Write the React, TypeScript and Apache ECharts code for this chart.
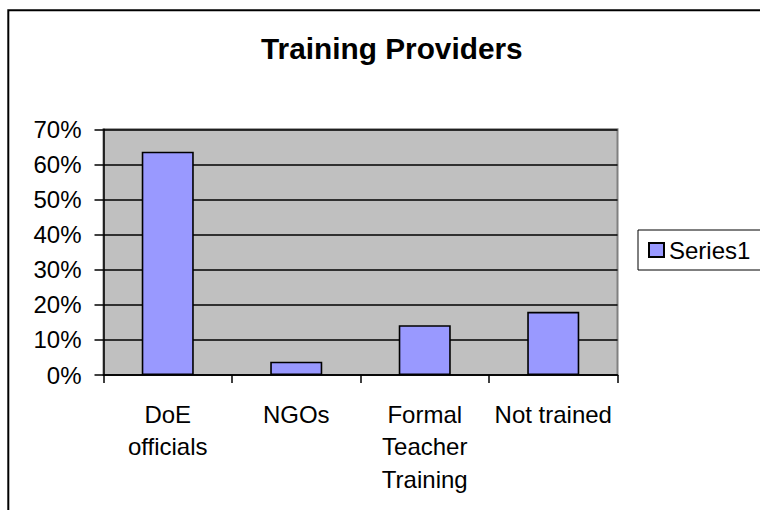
import React, { useEffect, useRef } from "react";
import * as echarts from "echarts";

const categories = ["DoE\nofficials", "NGOs", "Formal\nTeacher\nTraining", "Not trained"];
const seriesName = "Series1";
const values = [0.636, 0.038, 0.142, 0.18];
const titleText = "Training Providers";
const yMin = 0;
const yMax = 0.7;
const yInterval = 0.1;

const FONT = "'Liberation Sans', Arial, sans-serif";

export default function App() {
  const ref = useRef<HTMLDivElement>(null);
  useEffect(() => {
    const chart = echarts.init(ref.current!, null, { renderer: "svg" });
    chart.setOption({
      animation: false,
      backgroundColor: "#ffffff",
      title: {
        text: titleText,
        left: 261,
        top: 33,
        padding: 0,
        textStyle: { fontFamily: FONT, fontWeight: "bold", fontSize: 29.8, color: "#000" },
      },
      legend: {
        data: [seriesName],
        left: 638,
        top: 230,
        orient: "vertical",
        padding: [8, 14, 8, 10],
        itemWidth: 15,
        itemHeight: 14,
        backgroundColor: "#fff",
        borderColor: "#000",
        borderWidth: 1,
        borderRadius: 0,
        icon: "rect",
        textStyle: { fontFamily: FONT, fontSize: 24, color: "#000" },
      },
      graphic: [
        {
          type: "rect",
          shape: { x: 8.3, y: 10.3, width: 1000, height: 1000 },
          style: { fill: "none", stroke: "#000", lineWidth: 2 },
          silent: true,
          z: -1,
        },
      ],
      grid: {
        left: 103.5,
        right: 142.5,
        top: 129.3,
        bottom: 135,
        show: true,
        backgroundColor: "#C0C0C0",
        borderColor: "#808080",
        borderWidth: 2,
      },
      xAxis: {
        type: "category",
        data: categories,
        axisLine: { show: true, lineStyle: { color: "#000", width: 1.5 } },
        axisTick: { show: true, length: 8, lineStyle: { color: "#000", width: 1.5 } },
        axisLabel: {
          margin: 23,
          fontFamily: FONT,
          fontSize: 24,
          lineHeight: 32.5,
          color: "#000",
          interval: 0,
        },
      },
      yAxis: {
        type: "value",
        min: yMin,
        max: yMax,
        interval: yInterval,
        axisLine: { show: true, lineStyle: { color: "#000", width: 1.5 } },
        axisTick: { show: true, length: 9, lineStyle: { color: "#000", width: 1.5 } },
        splitLine: { show: true, lineStyle: { color: "#000", width: 1.5 } },
        axisLabel: {
          margin: 22,
          fontFamily: FONT,
          fontSize: 24,
          color: "#000",
          formatter: (v: number) => Math.round(v * 100) + "%",
        },
      },
      series: [
        {
          name: seriesName,
          type: "bar",
          data: values,
          barWidth: "40.5%",
          itemStyle: { color: "#9999FF", borderColor: "#000", borderWidth: 1.6 },
        },
      ],
    });
    return () => chart.dispose();
  }, []);
  return (
    <div
      ref={ref}
      style={{ position: "fixed", left: 0, top: 0, width: 760, height: 510, overflow: "hidden", background: "#fff" }}
    />
  );
}
